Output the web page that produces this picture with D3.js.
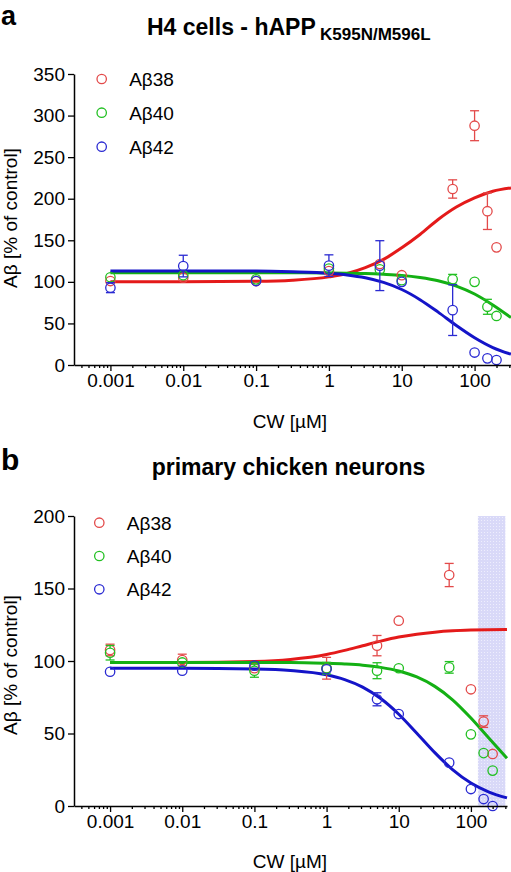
<!DOCTYPE html>
<html><head><meta charset="utf-8">
<script src="https://cdn.jsdelivr.net/npm/d3@7"></script>
<style>
body{margin:0;background:#fff;}
svg{display:block;font-family:"Liberation Sans",Arial,sans-serif;}
</style></head>
<body>
<svg id="c" width="511" height="872"></svg>
<script>
// ---------- data ----------
const conc = [0.001, 0.01, 0.1, 1, 5, 10, 50, 100, 150, 200];
const seriesNames = ["Aβ38", "Aβ40", "Aβ42"];
const xTickValues = [0.001, 0.01, 0.1, 1, 10, 100];
const xTickLabels = ["0.001", "0.01", "0.1", "1", "10", "100"];
const yTicksA = [0, 50, 100, 150, 200, 250, 300, 350];
const yTicksB = [0, 50, 100, 150, 200];

// panel a: H4 cells
const a38 = [101, 105, 101, 113, 121.5, 108, 211.7, 287.8, 185, 141.5];
const a38err = [0, 0, 0, 0, 0, 0, 11, 18, 22, 0];
const a40 = [105.5, 108, 103, 116, 115, 102, 103, 100, 70, 59];
const a40err = [0, 0, 0, 0, 0, 0, 6, 0, 9, 0];
const a42 = [93, 119, 101, 119.5, 119.5, 100, 66, 15, 8, 6];
const a42err = [6, 13, 0, 13, 30, 0, 30.5, 0, 0, 0];

// panel b: primary chicken neurons
const b38 = [107.6, 100.7, 95, 95, 110.6, 127.8, 159.3, 80.5, 58.2, 35.9];
const b38err = [4, 4, 0, 7.5, 7, 0, 8, 0, 4, 0];
const b40 = [105.7, 99, 93.3, 95, 93.3, 95, 95.6, 49.4, 36.5, 24.4];
const b40err = [5, 3, 4.5, 4, 5.5, 0, 4, 0, 0, 0];
const b42 = [92.6, 93.3, 96.8, 94.3, 73.6, 63.4, 29.9, 11.7, 4.8, 0];
const b42err = [0, 0, 0, 0, 4.5, 0, 0, 0, 0, 0];

const curveX = [0.001, 0.01, 0.1, 0.316, 1, 1.78, 3.16, 5.62, 10, 17.8, 31.6, 56.2, 100, 178, 316];
const fitA38 = [100, 100, 100.6, 102, 106, 110, 117, 127, 141, 157, 175, 190, 201, 209, 213];
const fitA40 = [111, 111, 111, 111, 110.7, 110.4, 110, 109.1, 107.8, 105.3, 101.4, 94.9, 85.4, 72.2, 57];
const fitA42 = [113, 113, 113, 112.1, 110.3, 108.3, 104.9, 99.3, 90.8, 78.6, 63.6, 47.5, 32.8, 21, 13];
const fitB38 = [99, 99, 99.7, 101.1, 104.5, 107.3, 110.5, 113.7, 116.5, 118.5, 119.9, 120.8, 121.3, 121.6, 121.8];
const fitB40 = [99, 99, 99, 99, 98.4, 97.9, 97.1, 95.6, 93.1, 89, 82.5, 73.1, 60.7, 46.7, 33];
const fitB42 = [95, 95, 94.5, 93.5, 90.5, 87.2, 82, 74.1, 63.3, 50.2, 36.8, 24.9, 15.8, 9.6, 5.6];

const shadeB = [125, 300]; // shaded concentration band in panel b

const lineColors = ["#e41a1a", "#14b014", "#1414c8"];
const markColors = ["#e34a4a", "#22c022", "#2a2ad2"];

// ---------- drawing ----------
const svg = d3.select("#c");
const defs = svg.append("defs");
const pat = defs.append("pattern").attr("id", "dots").attr("width", 3).attr("height", 3)
  .attr("patternUnits", "userSpaceOnUse");
pat.append("rect").attr("width", 3).attr("height", 3).attr("fill", "#d9d9f8");
pat.append("rect").attr("x", 1).attr("y", 1).attr("width", 1).attr("height", 1).attr("fill", "#eeeefd");

function panel(cfg) {
  const g = svg.append("g");
  const x = d3.scaleLog().domain([Math.pow(10, -3.5), Math.pow(10, 2.5)]).range(cfg.xr);
  const y = d3.scaleLinear().domain([0, cfg.ymax]).range(cfg.yr);

  if (cfg.shade) {
    g.append("rect").attr("x", x(cfg.shade[0])).attr("y", y(cfg.ymax))
      .attr("width", x(cfg.shade[1]) - x(cfg.shade[0]))
      .attr("height", y(0) - y(cfg.ymax)).attr("fill", "url(#dots)");
  }

  // curves
  const line = d3.line().x((d, i) => x(curveX[i])).y(d => y(d)).curve(d3.curveMonotoneX);
  cfg.fits.forEach((f, k) => {
    g.append("path").attr("d", line(f)).attr("fill", "none")
      .attr("stroke", lineColors[k]).attr("stroke-width", 3);
  });

  // points + error bars
  const r = 4.7;
  cfg.vals.forEach((vals, k) => {
    const errs = cfg.errs[k];
    const sg = g.append("g").attr("stroke", markColors[k]).attr("stroke-width", 1.3).attr("fill", "none");
    vals.forEach((v, i) => {
      const cx = x(conc[i]), cy = y(v);
      const e = errs[i];
      if (e > 0) {
        const yt = y(v + e), yb = y(Math.max(0, v - e));
        if (cy - yt > r) {
          sg.append("line").attr("x1", cx).attr("x2", cx).attr("y1", yt).attr("y2", cy - r);
          sg.append("line").attr("x1", cx - 4.5).attr("x2", cx + 4.5).attr("y1", yt).attr("y2", yt);
        }
        if (yb - cy > r) {
          sg.append("line").attr("x1", cx).attr("x2", cx).attr("y1", cy + r).attr("y2", yb);
          sg.append("line").attr("x1", cx - 4.5).attr("x2", cx + 4.5).attr("y1", yb).attr("y2", yb);
        }
      }
      sg.append("circle").attr("cx", cx).attr("cy", cy).attr("r", r);
    });
  });

  // axes
  const xAxis = d3.axisBottom(x).tickValues(xTickValues)
    .tickFormat((d, i) => xTickLabels[i]).tickSize(6).tickSizeOuter(0).tickPadding(3);
  const gx = g.append("g").attr("transform", `translate(0,${y(0)})`).call(xAxis);
  const minor = [];
  for (let e = -4; e <= 2; e++) for (let m = 2; m <= 9; m++) {
    const v = m * Math.pow(10, e);
    if (v >= x.domain()[0] && v <= x.domain()[1]) minor.push(v);
  }
  const xMinor = d3.axisBottom(x).tickValues(minor).tickFormat("").tickSize(3).tickSizeOuter(0);
  g.append("g").attr("transform", `translate(0,${y(0)})`).call(xMinor).select(".domain").remove();

  const yAxis = d3.axisLeft(y).tickValues(cfg.yticks).tickSize(6).tickSizeOuter(0).tickPadding(3);
  const gy = g.append("g").attr("transform", `translate(${cfg.xr[0]},0)`).call(yAxis);

  g.selectAll(".domain").attr("stroke", "#000").attr("stroke-width", 1.5);
  g.selectAll(".tick line").attr("stroke", "#000").attr("stroke-width", 1.3);
  g.selectAll(".tick text").attr("font-size", 19).attr("fill", "#000")
    .attr("font-family", "Liberation Sans, Arial, sans-serif");
  gx.selectAll(".tick text").attr("dy", "0.71em");

  // axis titles
  g.append("text").attr("transform", `translate(17,${cfg.ylabY}) rotate(-90)`)
    .attr("text-anchor", "middle").attr("font-size", 19).text("Aβ [% of control]");
  g.append("text").attr("x", 290).attr("y", cfg.xlabY)
    .attr("text-anchor", "middle").attr("font-size", 19).text("CW [µM]");

  // legend
  cfg.legY.forEach((ly, k) => {
    g.append("circle").attr("cx", cfg.legX).attr("cy", ly).attr("r", r)
      .attr("fill", "none").attr("stroke", markColors[k]).attr("stroke-width", 1.3);
    g.append("text").attr("x", cfg.legX + 27.5).attr("y", ly + 7)
      .attr("font-size", 19).text(seriesNames[k]);
  });
}

panel({
  xr: [74, 511], yr: [365, 74], ymax: 350, yticks: yTicksA,
  vals: [a38, a40, a42], errs: [a38err, a40err, a42err],
  fits: [fitA38, fitA40, fitA42],
  ylabY: 218, xlabY: 428, legX: 101.7, legY: [79, 112.7, 146.7]
});
panel({
  xr: [74, 507], yr: [806, 516], ymax: 200, yticks: yTicksB,
  vals: [b38, b40, b42], errs: [b38err, b40err, b42err],
  fits: [fitB38, fitB40, fitB42], shade: shadeB,
  ylabY: 665, xlabY: 868, legX: 99.3, legY: [522.7, 556, 589.3]
});

// panel letters and titles
svg.append("text").attr("x", 1).attr("y", 25).attr("font-size", 27).attr("font-weight", "bold").text("a");
svg.append("text").attr("x", 1).attr("y", 470).attr("font-size", 30).attr("font-weight", "bold").text("b");
svg.append("text").attr("x", 147).attr("y", 35).attr("font-size", 23).attr("font-weight", "bold")
  .text("H4 cells - hAPP");
svg.append("text").attr("x", 320).attr("y", 40).attr("font-size", 17).attr("font-weight", "bold")
  .text("K595N/M596L");
svg.append("text").attr("x", 151.7).attr("y", 475).attr("font-size", 23).attr("font-weight", "bold")
  .text("primary chicken neurons");
</script>
</body></html>
